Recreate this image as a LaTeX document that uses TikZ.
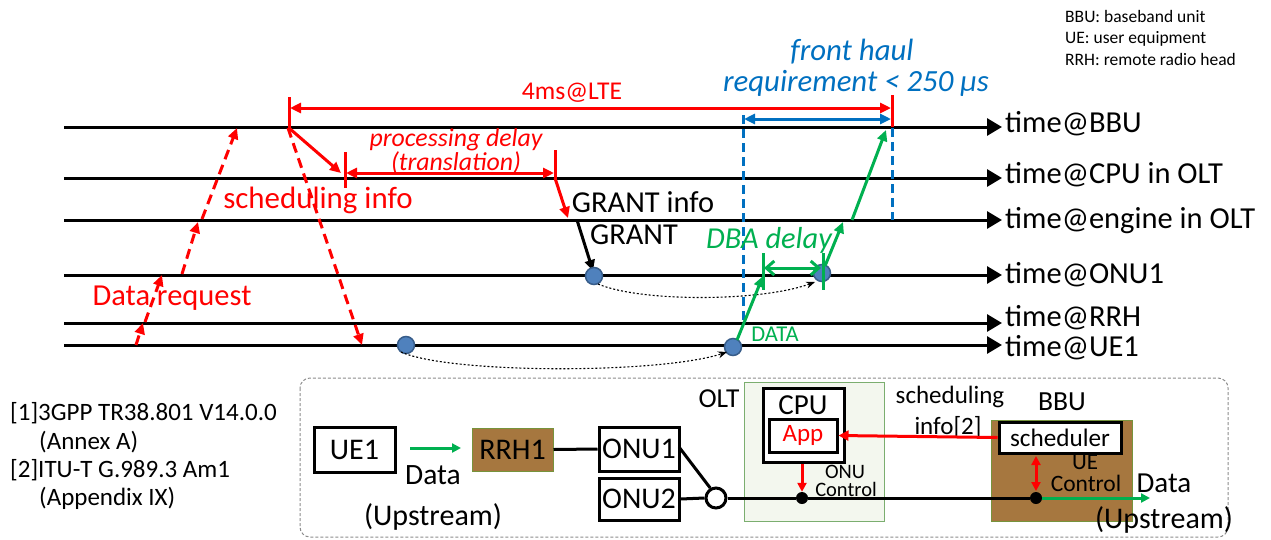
\documentclass[tikz,border=0pt]{standalone}
\usepackage{fontspec}
\setmainfont{Carlito}
\usetikzlibrary{arrows.meta}
\definecolor{cred}{HTML}{FF0000}
\definecolor{cgreen}{HTML}{00B050}
\definecolor{cblue}{HTML}{0070C0}
\definecolor{dotfill}{HTML}{4F81BD}
\definecolor{dotdraw}{HTML}{385D8A}
\definecolor{brown}{HTML}{A6773F}
\definecolor{brownedge}{HTML}{77933C}
\definecolor{oltfill}{HTML}{F3F7EE}
\definecolor{oltedge}{HTML}{7BAE6F}
\definecolor{boxgray}{HTML}{8C8C8C}
\newcommand\fsz[1]{\fontsize{#1}{#1}\selectfont}
\tikzset{
  tl/.style={line width=3pt,-{Triangle[length=15pt,width=17pt]}},
  tlabel/.style={anchor=base west,inner sep=0pt,font=\fsz{30.5}},
  redarr/.style={cred,line width=3pt,-{Triangle[length=11pt,width=10pt]}},
  redbar/.style={cred,line width=3pt},
  reddash/.style={cred,line width=3pt,dash pattern=on 10pt off 6pt,-{Triangle[length=11pt,width=10pt]}},
  greenarr/.style={cgreen,line width=3pt,-{Triangle[length=11pt,width=10pt]}},
  greenbar/.style={cgreen,line width=3pt},
  bluedash/.style={cblue,line width=3pt,dash pattern=on 9pt off 5pt},
  bluedot/.style={circle,fill=dotfill,draw=dotdraw,line width=1.5pt,minimum size=17pt,inner sep=0pt},
  dotarr/.style={black,line width=1.1pt,dash pattern=on 2pt off 2pt,-{Stealth[length=9pt,width=7pt]}},
  txt/.style={inner sep=0pt},
  bx/.style={draw,line width=3pt,inner sep=0pt,fill=white},
  blackdot/.style={circle,fill=black,minimum size=12pt,inner sep=0pt},
}
\begin{document}
\begin{tikzpicture}[x=1pt,y=-1pt]
\useasboundingbox (0,0) rectangle (1271,539);
% ---------------- legend
\node[txt,anchor=base west,font=\fsz{17.5}] (lg1) at (1065,22) {BBU: baseband unit};
\node[txt,anchor=base west,font=\fsz{17.5}] (lg2) at (1065,43.5) {UE: user equipment};
\node[txt,anchor=base west,font=\fsz{17.5}] (lg3) at (1065,65) {RRH: remote radio head};
% ---------------- timelines
\foreach \n/\y/\b/\t in {bbu/127/132/{time@BBU},cpu/178/183/{time@CPU in OLT},eng/220/228/{time@engine in OLT},onu/275/283/{time@ONU1},rrh/323/326/{time@RRH},ue/345/356/{time@UE1}}{
  \coordinate (s\n) at (64,\y);
  \coordinate (e\n) at (1002,\y);
  \draw[tl] (s\n) -- (e\n);
  \node[tlabel] (l\n) at (1005,\b) {\t};
}
% ---------------- front haul
\node[txt,cblue,font=\itshape\fsz{30.8}] (fh1) at (852,52) {front haul};
\node[txt,cblue,font=\itshape\fsz{30.8}] (fh2) at (856,83) {requirement < 250 μs};
\coordinate (bl1) at (743,115); \coordinate (bl2) at (743,323);
\coordinate (br1) at (892,128); \coordinate (br2) at (892,220);
\draw[bluedash] (bl1) -- (bl2);
\draw[bluedash] (br1) -- (br2);
\coordinate (ba1) at (744,119); \coordinate (ba2) at (891,119);
\draw[cblue,line width=3pt,{Triangle[length=11pt,width=10pt]}-{Triangle[length=11pt,width=10pt]}] (ba1) -- (ba2);
% ---------------- 4ms@LTE
\coordinate (r1a) at (289,97); \coordinate (r1b) at (289,129);
\coordinate (r2a) at (892,95); \coordinate (r2b) at (892,127);
\draw[redbar] (r1a) -- (r1b);
\draw[redbar] (r2a) -- (r2b);
\coordinate (ra1) at (290,108); \coordinate (ra2) at (891,108);
\draw[cred,line width=3pt,{Triangle[length=11pt,width=10pt]}-{Triangle[length=11pt,width=10pt]}] (ra1) -- (ra2);
\node[txt,cred,font=\fsz{25.6}] (lte) at (572,93) {4ms@LTE};
% ---------------- data request
\coordinate (d1a) at (136,345); \coordinate (d1b) at (143,323);
\coordinate (d2a) at (145,322); \coordinate (d2b) at (162,275);
\coordinate (d3a) at (182,274); \coordinate (d3b) at (198,222);
\coordinate (d4a) at (202,219); \coordinate (d4b) at (237,128);
\draw[reddash] (d1a) -- (d1b);
\draw[reddash] (d2a) -- (d2b);
\draw[reddash] (d3a) -- (d3b);
\draw[reddash] (d4a) -- (d4b);
\node[txt,cred,font=\fsz{30.5}] (dreq) at (172,298) {Data request};
% ---------------- downlink dashed
\coordinate (dd1) at (288,128); \coordinate (dd2) at (362,345);
\draw[reddash] (dd1) -- (dd2);
% ---------------- scheduling info
\coordinate (si1) at (289,128); \coordinate (si2) at (341,173);
\draw[redarr] (si1) -- (si2);
\node[txt,cred,font=\fsz{30.9}] (schedinfo) at (318,200) {scheduling info};
% processing delay
\coordinate (p1a) at (345,152); \coordinate (p1b) at (345,188);
\coordinate (p2a) at (555,150); \coordinate (p2b) at (555,180);
\draw[redbar] (p1a) -- (p1b);
\draw[redbar] (p2a) -- (p2b);
\coordinate (pa1) at (346,173); \coordinate (pa2) at (554,173);
\draw[cred,line width=3pt,{Triangle[length=11pt,width=10pt]}-{Triangle[length=11pt,width=10pt]}] (pa1) -- (pa2);
\node[txt,cred,font=\itshape\fsz{25.8},align=center] (proc) at (456,151) {processing delay\\[-2pt](translation)};
\coordinate (g0) at (555,178); \coordinate (g1) at (568,218);
\draw[redarr] (g0) -- (g1);
% ---------------- GRANT
\node[txt,font=\fsz{30.4}] (grinfo) at (643,202) {GRANT info};
\node[txt,font=\fsz{30.4}] (grant) at (634,235) {GRANT};
\coordinate (gb0) at (577,220); \coordinate (gb1) at (593,271);
\draw[line width=3pt,-{Triangle[length=11pt,width=10pt]}] (gb0) -- (gb1);
% ---------------- dots and dotted curves
\node[bluedot] (c1) at (594,276) {};
\node[bluedot] (c2) at (822,273) {};
\node[bluedot] (c3) at (406,345) {};
\node[bluedot] (c4) at (733,347) {};
\coordinate (cv1a) at (598,284); \coordinate (cv1b) at (815,282);
\draw[dotarr] (cv1a) .. controls (640,302) and (760,302) .. (cv1b);
\coordinate (cv2a) at (401,352); \coordinate (cv2b) at (727,352);
\draw[dotarr] (cv2a) .. controls (450,374) and (660,374) .. (cv2b);
% ---------------- green
\coordinate (gr1a) at (737,340); \coordinate (gr1b) at (763,276);
\draw[greenarr] (gr1a) -- (gr1b);
\coordinate (gba) at (763,253); \coordinate (gbb) at (763,290);
\coordinate (gca) at (823,253); \coordinate (gcb) at (823,290);
\draw[greenbar] (gba) -- (gbb);
\draw[greenbar] (gca) -- (gcb);
\coordinate (gda) at (764,268); \coordinate (gdb) at (821,268);
\draw[cgreen,line width=3pt,{Straight Barb[length=8pt,width=14pt]}-{Straight Barb[length=8pt,width=14pt]}] (gda) -- (gdb);
\coordinate (gr2a) at (825,266); \coordinate (gr2b) at (843,222);
\draw[greenarr] (gr2a) -- (gr2b);
\coordinate (gr3a) at (852,220); \coordinate (gr3b) at (886,130);
\draw[greenarr] (gr3a) -- (gr3b);
\node[txt,cgreen,font=\itshape\fsz{30.4}] (dba) at (769,240) {DBA delay};
\node[txt,cgreen,font=\fsz{22.6}] (data1) at (775,334) {DATA};
% ---------------- references
\node[txt,anchor=west,font=\fsz{25}] (ref1) at (10,413) {[1]3GPP TR38.801 V14.0.0};
\node[txt,anchor=west,font=\fsz{25}] (ref1b) at (39,442) {(Annex A)};
\node[txt,anchor=west,font=\fsz{25}] (ref2) at (10,470) {[2]ITU-T G.989.3 Am1};
\node[txt,anchor=west,font=\fsz{25}] (ref2b) at (39,498) {(Appendix IX)};
% ---------------- bottom block diagram
\coordinate (fr1) at (300,378); \coordinate (fr2) at (1228,537);
\draw[boxgray,line width=1pt,dash pattern=on 3pt off 2pt,rounded corners=10pt] (fr1) rectangle (fr2);
\coordinate (olt1) at (744,382); \coordinate (olt2) at (884,521);
\draw[oltedge,fill=oltfill,line width=1pt] (olt1) rectangle (olt2);
\node[txt,font=\fsz{27.4}] (oltl) at (719,399) {OLT};
\coordinate (bbu1) at (991,420); \coordinate (bbu2) at (1132,521);
\draw[brownedge,fill=brown,line width=1pt] (bbu1) rectangle (bbu2);
\node[txt,font=\fsz{27.6}] (bbul) at (1062,402) {BBU};
\node[bx,minimum width=81pt,minimum height=45pt,font=\fsz{30}] (ue1) at (354.5,449.5) {UE1};
\coordinate (ga1) at (410,448); \coordinate (ga2) at (461,448);
\draw[greenarr,-{Triangle[length=9pt,width=9pt]}] (ga1) -- (ga2);
\node[txt,font=\fsz{29.5}] (dataL) at (433,475) {Data};
\node[txt,font=\fsz{30}] (upL) at (433,517) {(Upstream)};
\node[draw=brownedge,fill=brown,line width=1pt,minimum width=81pt,minimum height=43pt,inner sep=0pt,font=\fsz{30}] (rrh) at (512.5,449.5) {RRH1};
\node[bx,minimum width=80pt,minimum height=44pt,font=\fsz{30}] (onu1) at (639,449) {ONU1};
\node[bx,minimum width=80pt,minimum height=42pt,font=\fsz{30}] (onu2) at (639,499) {ONU2};
\draw[line width=3pt] (rrh.east) -- (onu1.west);
\node[circle,draw,fill=white,line width=3pt,minimum size=20pt,inner sep=0pt] (spl) at (716,498) {};
\node[blackdot] (dotolt) at (802,498) {};
\node[blackdot] (dotbbu) at (1036,498) {};
\coordinate (o1e) at (679,447);
\draw[line width=3pt] (o1e) -- (spl.120);
\draw[line width=3pt] (onu2.east) -- (spl.west);
\draw[line width=3pt] (spl.east) -- (dotolt) -- (dotbbu);
\node[bx,minimum width=81pt,minimum height=74pt] (cpu) at (803.5,425) {};
\node[txt,font=\fsz{29}] (cpul) at (803,405) {CPU};
\node[bx,minimum width=68pt,minimum height=33pt,font=\fsz{25},text=cred] (app) at (803,435.5) {App};
\draw[redarr,-{Triangle[length=9pt,width=9pt]}] (cpu.south -| dotolt) -- (dotolt.north);
\node[txt,anchor=base,font=\fsz{20.5}] (onuc1) at (845,478) {ONU};
\node[txt,anchor=base,font=\fsz{20.5}] (onuc2) at (846,496) {Control};
\node[txt,font=\fsz{25}] (sch1) at (950,397) {scheduling};
\node[txt,font=\fsz{25}] (sch2) at (948,427) {info[2]};
\node[bx,minimum width=122pt,minimum height=31pt,font=\fsz{25.2}] (sched) at (1060,437.5) {scheduler};
\draw[redarr,-{Triangle[length=10pt,width=10pt]}] (sched.west) -- (app.east);
\coordinate (ud1) at (1036,456); \coordinate (ud2) at (1036,491);
\draw[cred,line width=3pt,{Triangle[length=9pt,width=9pt]}-{Triangle[length=9pt,width=9pt]}] (ud1) -- (ud2);
\node[txt,anchor=base,font=\fsz{23}] (uec1) at (1085,469) {UE};
\node[txt,anchor=base,font=\fsz{23.5}] (uec2) at (1086,491) {Control};
\coordinate (gout) at (1150,498);
\draw[greenarr,-{Triangle[length=9pt,width=9pt]}] (dotbbu) -- (gout);
\node[txt,font=\fsz{29}] (dataR) at (1164,483) {Data};
\node[txt,font=\fsz{30}] (upR) at (1164,520) {(Upstream)};
\end{tikzpicture}
\end{document}
